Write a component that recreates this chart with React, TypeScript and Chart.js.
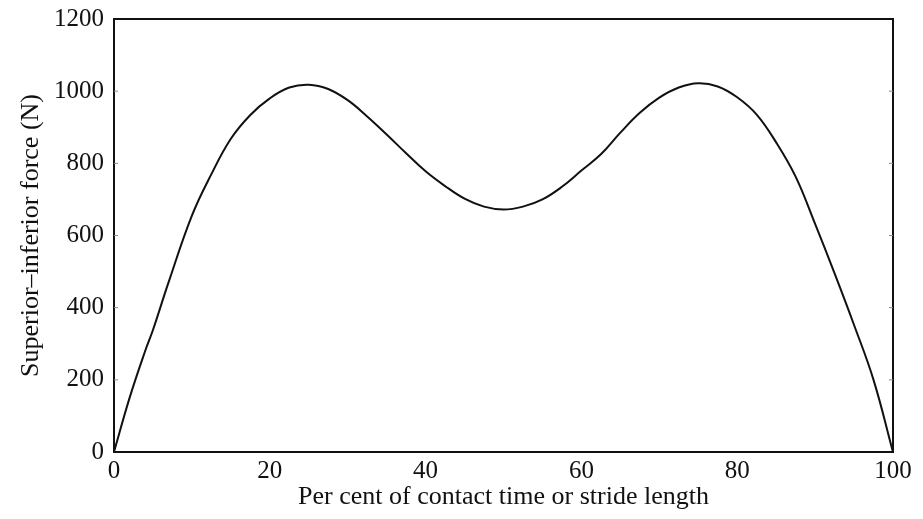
import React, { useEffect, useRef } from "react";
import { Chart, registerables } from "chart.js";

Chart.register(...registerables);

const percent = [0, 2, 4, 5, 7, 10, 12.5, 15, 17.5, 20, 22.5, 25, 27.5, 30, 32.5, 35, 37.5, 40, 42.5, 45, 47.5, 50, 52.5, 55, 57.5, 60, 62.5, 65, 67.5, 70, 72.5, 75, 77.5, 80, 82.5, 85, 87.5, 90, 92.5, 95, 97.5, 100];
const force = [0, 150, 280, 338, 470, 655, 770, 868, 934, 980, 1010, 1018, 1006, 975, 930, 880, 828, 778, 737, 702, 680, 672, 680, 700, 735, 780, 825, 885, 940, 982, 1010, 1022, 1013, 983, 935, 858, 763, 632, 495, 352, 200, 0];

const xLabel = "Per cent of contact time or stride length";
const yLabel = "Superior\u2013inferior force (N)";

const FONT = "'Liberation Serif', 'DejaVu Serif', serif";

const frame = {
  id: "frame",
  afterDraw(chart: any) {
    const { ctx, chartArea } = chart;
    const { left, right, top, bottom } = chartArea;
    ctx.save();
    ctx.strokeStyle = "#111";
    ctx.lineWidth = 2;
    ctx.strokeRect(left, top, right - left, bottom - top);
    ctx.lineWidth = 1;
    ctx.strokeStyle = "#888";
    const ys = chart.scales.y;
    for (let v = 200; v < 1200; v += 200) {
      const py = ys.getPixelForValue(v);
      ctx.beginPath();
      ctx.moveTo(left, py);
      ctx.lineTo(left + 4, py);
      ctx.moveTo(right, py);
      ctx.lineTo(right - 4, py);
      ctx.stroke();
    }
    ctx.restore();
  },
};

export default function App() {
  const ref = useRef<HTMLCanvasElement>(null);
  useEffect(() => {
    if (!ref.current) return;
    const chart = new Chart(ref.current, {
      type: "line",
      data: {
        datasets: [
          {
            data: percent.map((p, i) => ({ x: p, y: force[i] })),
            borderColor: "#111",
            borderWidth: 2,
            pointRadius: 0,
            fill: false,
            tension: 0.4,
          },
        ],
      },
      options: {
        animation: false,
        responsive: false,
        layout: { padding: { top: 19, right: 30, left: 0, bottom: 0 } },
        plugins: { legend: { display: false }, tooltip: { enabled: false } },
        scales: {
          x: {
            type: "linear",
            min: 0,
            max: 100,
            ticks: { stepSize: 20, color: "#111", padding: 4, font: { family: FONT, size: 25 }, callback: (v: any) => String(v) },
            grid: { display: false, drawTicks: false },
            border: { color: "#111", width: 2 },
            title: {
              display: true,
              text: xLabel,
              color: "#111",
              font: { family: FONT, size: 26, lineHeight: 1 },
              padding: { top: 0, bottom: 9 },
            },
            afterFit(scale: any) {
              scale.height = 67;
              scale.paddingLeft = 0;
              scale.paddingRight = 0;
            },
          },
          y: {
            min: 0,
            max: 1200,
            ticks: { stepSize: 200, color: "#111", padding: 10, font: { family: FONT, size: 25 }, callback: (v: any) => String(v) },
            grid: { display: false, drawTicks: false },
            border: { color: "#111", width: 2 },
            title: {
              display: true,
              text: yLabel,
              color: "#111",
              font: { family: FONT, size: 26, lineHeight: 1 },
              padding: { top: 18, bottom: 0 },
            },
            afterFit(scale: any) {
              scale.width = 114;
              scale.paddingTop = 0;
              scale.paddingBottom = 0;
            },
          },
        },
      },
      plugins: [frame],
    });
    return () => chart.destroy();
  }, []);
  return (
    <div style={{ position: "fixed", left: 0, top: 0, width: 923, height: 519, background: "#fff" }}>
      <canvas ref={ref} width={923} height={519} style={{ width: 923, height: 519 }} />
    </div>
  );
}
